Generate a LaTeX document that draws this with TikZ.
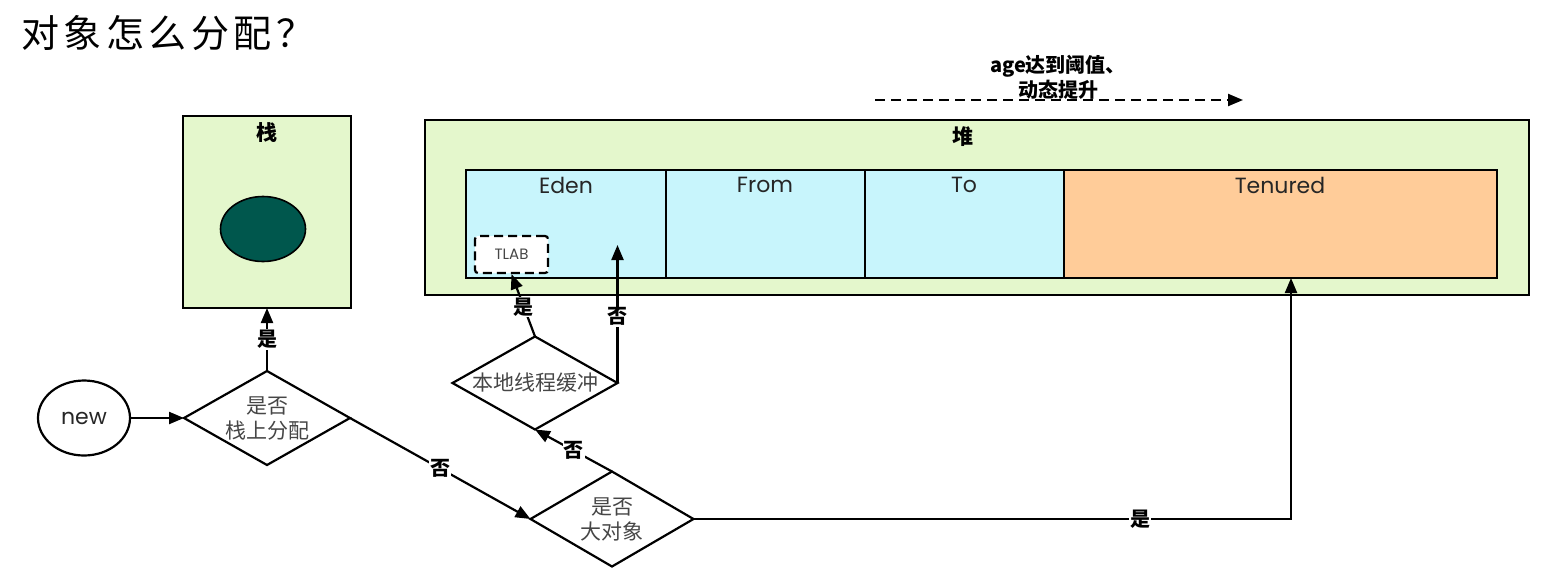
\documentclass[tikz,border=0pt]{standalone}
\usepackage{fontspec}
\setmainfont{Poppins}
\newfontfamily\cjk{Noto Sans CJK SC}
\newfontfamily\cjktitle{Noto Sans CJK SC}[LetterSpace=12]
\usetikzlibrary{shapes.geometric,arrows.meta}
\definecolor{heapgreen}{RGB}{228,247,204}
\definecolor{cellcyan}{RGB}{200,245,252}
\definecolor{cellorange}{RGB}{255,204,153}
\definecolor{objteal}{RGB}{0,87,77}
\definecolor{dtextgray}{RGB}{70,70,70}
\begin{document}
\begin{tikzpicture}[x=1pt,y=-1pt,
  line width=2.2pt,
  area/.style={draw, fill=heapgreen, anchor=north west, inner sep=0pt, outer sep=0pt},
  cell/.style={draw, line width=2.4pt, anchor=north west, inner sep=0pt, outer sep=0pt, minimum height=108pt},
  celltitle/.style={font=\fontsize{22}{26}\selectfont, text=black!85},
  areatitle/.style={font=\cjk\bfseries\fontsize{21}{24}\selectfont},
  dia/.style={draw, diamond, inner sep=0pt, outer sep=0pt, minimum width=166pt, minimum height=94pt},
  dtext/.style={font=\cjk\fontsize{21}{25}\selectfont, text=dtextgray, align=center},
  lbl/.style={font=\cjk\bfseries\fontsize{20}{22}\selectfont, fill=white, inner sep=1pt},
  arr/.style={-{Triangle[length=15pt,width=12pt]}},
  ]
\useasboundingbox (0,0) rectangle (1560,579);
% title
\node[anchor=west, font=\cjktitle\fontsize{38}{44}\selectfont, inner sep=0pt] (title) at (20,33) {对象怎么分配？};
% stack
\node[area, minimum width=168pt, minimum height=192pt] (stack) at (183,116) {};
\node[areatitle] (stacktitle) at (267,133) {栈};
\node[ellipse, draw, fill=objteal, minimum width=85pt, minimum height=65pt, line width=1.6pt] (obj) at (263,229) {};
% heap
\node[area, minimum width=1104pt, minimum height=175pt] (heap) at (425,120) {};
\node[areatitle] (heaptitle) at (963,137) {堆};
\node[cell, fill=cellcyan, minimum width=200pt] (eden) at (466,170) {};
\node[cell, fill=cellcyan, minimum width=199pt] (from) at (666,170) {};
\node[cell, fill=cellcyan, minimum width=199pt] (to) at (865,170) {};
\node[cell, fill=cellorange, minimum width=433pt] (tenured) at (1064,170) {};
\node[celltitle] (edent) at (566,185) {Eden};
\node[celltitle] (fromt) at (765,185) {From};
\node[celltitle] (tot) at (964,185) {To};
\node[celltitle] (tenuredt) at (1280,185) {Tenured};
\node[draw, dash pattern=on 9pt off 5pt, fill=white, rounded corners=3pt, minimum width=73pt, minimum height=37pt, inner sep=0pt, font=\fontsize{15}{17}\selectfont, text=dtextgray] (tlab) at (511.5,254.5) {TLAB};
% age arrow
\coordinate (ageA) at (875,100);
\coordinate (ageB) at (1243,100);
\draw[arr, dash pattern=on 10pt off 6pt] (ageA) -- (ageB);
\node[font=\cjk\bfseries\fontsize{20}{25}\selectfont, align=center] (agelbl) at (1058,77) {age达到阈值、\\动态提升};
% flow
\node[ellipse, draw, minimum width=92pt, minimum height=75pt, font=\fontsize{22}{24}\selectfont, text=black!85] (new) at (84,418) {new};
\node[dia] (d1) at (267,418) {};
\node[dtext] (d1t) at (d1) {是否\\栈上分配};
\node[dia, minimum width=165pt, minimum height=93pt] (d3) at (535,383) {};
\node[dtext] (d3t) at (d3) {本地线程缓冲};
\node[dia, minimum width=163pt, minimum height=95pt] (d2) at (612,519) {};
\node[dtext] (d2t) at (d2) {是否\\大对象};
\coordinate (edenin) at (617.5,245);
\coordinate (tenin) at (1291,278);
\draw[arr] (new) -- (d1.west);
\draw[arr] (d1.north) -- node[lbl]{是} (stack.south);
\draw[arr] (d1.east) -- node[lbl]{否} (d2.west);
\draw[arr] (d2.north) -- node[lbl]{否} (d3.south);
\draw[arr] (d3.north) -- node[lbl, pos=0.47]{是} (tlab.south);
\draw[arr] (d3.east) -- node[lbl, pos=0.48]{否} (edenin);
\draw[arr] (d2.east) -| node[lbl, pos=0.374]{是} (tenin);
\end{tikzpicture}
\end{document}
